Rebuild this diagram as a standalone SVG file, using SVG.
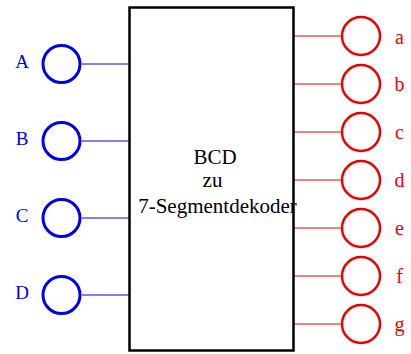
<svg xmlns="http://www.w3.org/2000/svg" width="411" height="354" viewBox="0 0 411 354">
<style>
.in{fill:none;stroke:#0000ee;stroke-width:3}
.out{fill:none;stroke:#ee0000;stroke-width:2.5}
.bl{stroke:#0000ee;stroke-width:1}
.rl{stroke:#ee0000;stroke-width:1}
text{font-family:'Liberation Serif','Times New Roman','DejaVu Serif',serif;text-anchor:middle}
.lbb{fill:#0000ee;font-size:19px}
.lbr{fill:#ee0000;font-size:20px}
.ct{fill:#000;font-size:21px}
</style>
<rect width="411" height="354" fill="#fff"/>
<g id="connectors">
<line class="bl" x1="82" y1="64" x2="129" y2="64"/>
<line class="bl" x1="82" y1="141" x2="129" y2="141"/>
<line class="bl" x1="82" y1="218" x2="129" y2="218"/>
<line class="bl" x1="82" y1="295" x2="129" y2="295"/>
<line class="rl" x1="294" y1="36" x2="342" y2="36"/>
<line class="rl" x1="294" y1="84" x2="342" y2="84"/>
<line class="rl" x1="294" y1="132" x2="342" y2="132"/>
<line class="rl" x1="294" y1="180" x2="342" y2="180"/>
<line class="rl" x1="294" y1="228" x2="342" y2="228"/>
<line class="rl" x1="294" y1="276" x2="342" y2="276"/>
<line class="rl" x1="294" y1="324" x2="342" y2="324"/>
</g>
<g id="decoder">
<rect x="129.5" y="7.5" width="164" height="343" fill="none" stroke="#000" stroke-width="2.5"/>
<text class="ct" x="215" y="164">BCD</text>
<text class="ct" x="212.5" y="187" font-size="19">zu</text>
<text class="ct" x="217.5" y="212.5">7-Segmentdekoder</text>
</g>
<g id="inA"><circle class="in" cx="61.5" cy="64" r="18.5"/><text class="lbb" x="22" y="68">A</text></g>
<g id="inB"><circle class="in" cx="61.5" cy="141" r="18.5"/><text class="lbb" x="22" y="145">B</text></g>
<g id="inC"><circle class="in" cx="61.5" cy="218" r="18.5"/><text class="lbb" x="22" y="222">C</text></g>
<g id="inD"><circle class="in" cx="61.5" cy="295" r="18.5"/><text class="lbb" x="22" y="299">D</text></g>
<g id="outa"><circle class="out" cx="361" cy="36" r="19"/><text class="lbr" x="399.5" y="44">a</text></g>
<g id="outb"><circle class="out" cx="361" cy="84" r="19"/><text class="lbr" x="399.5" y="91">b</text></g>
<g id="outc"><circle class="out" cx="361" cy="132" r="19"/><text class="lbr" x="399.5" y="139">c</text></g>
<g id="outd"><circle class="out" cx="361" cy="180" r="19"/><text class="lbr" x="399.5" y="187">d</text></g>
<g id="oute"><circle class="out" cx="361" cy="228" r="19"/><text class="lbr" x="399.5" y="235">e</text></g>
<g id="outf"><circle class="out" cx="361" cy="276" r="19"/><text class="lbr" x="399.5" y="283">f</text></g>
<g id="outg"><circle class="out" cx="361" cy="324" r="19"/><text class="lbr" x="399.5" y="331">g</text></g>
</svg>
